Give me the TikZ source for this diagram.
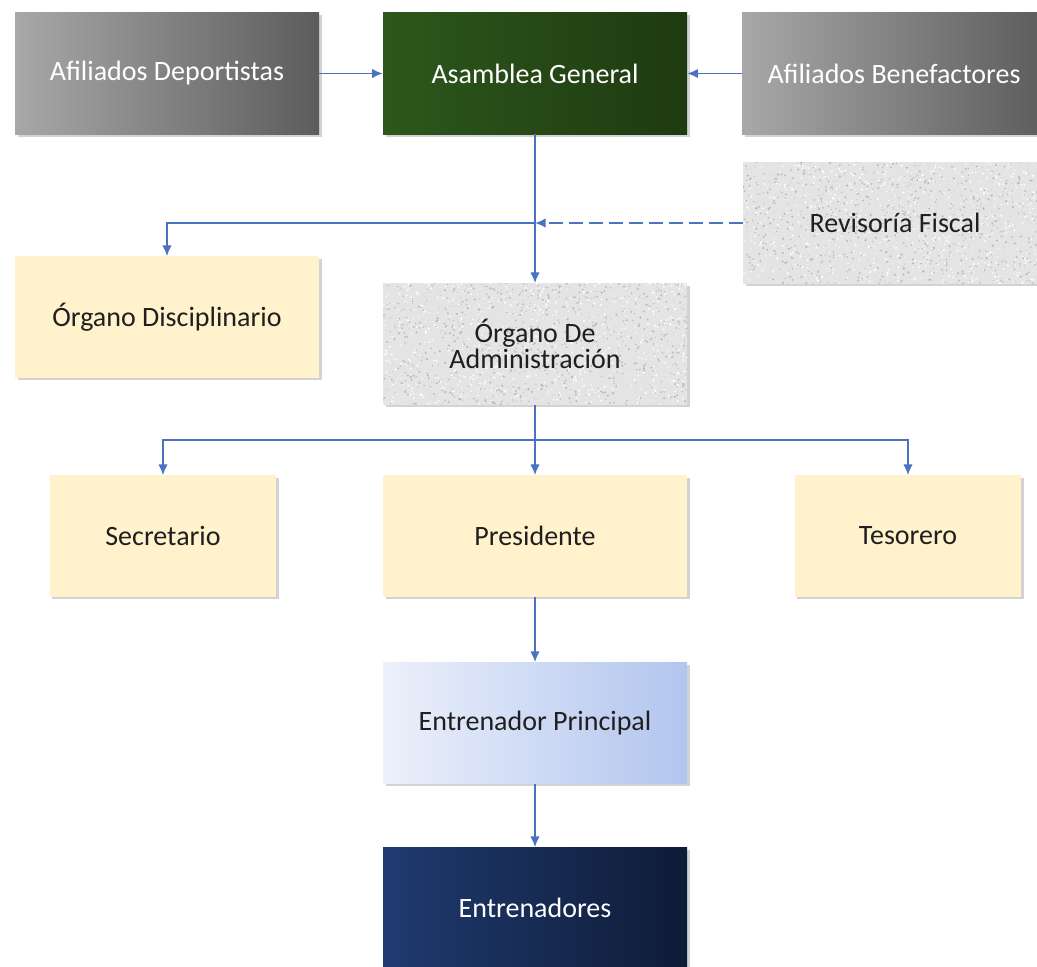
\documentclass[tikz,border=0pt]{standalone}
\usepackage{fontspec}
\setmainfont{Carlito}
\usepackage{tikz}
\usetikzlibrary{calc}
\usetikzlibrary{positioning, arrows.meta, shadows}

\definecolor{linkblue}{HTML}{4A72C0}
\definecolor{greyleft}{HTML}{A8A8A8}
\definecolor{greyright}{HTML}{5C5C5C}
\definecolor{greenleft}{HTML}{2E571C}
\definecolor{greenright}{HTML}{1E3B10}
\definecolor{cream}{HTML}{FFF2CC}
\definecolor{graniteback}{HTML}{E4E4E4}
\definecolor{paleleft}{HTML}{ECF0FB}
\definecolor{paleright}{HTML}{B2C5EE}
\definecolor{navyleft}{HTML}{203B70}
\definecolor{navyright}{HTML}{0E1B36}

\begin{document}
\begin{tikzpicture}[x=0.75pt,y=0.75pt,yscale=-1,xscale=1,
    box/.style={rectangle, minimum width=228pt, minimum height=91pt, inner sep=0.75pt, align=center,
      font=\fontsize{21}{20}\selectfont,
      drop shadow={shadow xshift=2pt, shadow yshift=-2pt, opacity=0.35}},
    smallbox/.style={box, minimum width=170pt},
    greybox/.style={box, left color=greyleft, right color=greyright, text=white},
    greenbox/.style={box, left color=greenleft, right color=greenright, text=white},
    creambox/.style={box, fill=cream, text=black!88},
    granite/.style={box, fill=graniteback, text=black!88,
      path picture={
        \foreach \k in {1,...,1000}{
          \fill[black!28] ($(path picture bounding box.south west)!{rnd}!(path picture bounding box.south east) + (0,{130*rnd})$) circle ({0.3+0.9*rnd});
          \fill[white] ($(path picture bounding box.south west)!{rnd}!(path picture bounding box.south east) + (0,{130*rnd})$) circle ({0.3+0.9*rnd});
        }}},
    palebox/.style={box, left color=paleleft, right color=paleright, text=black!88},
    navybox/.style={box, left color=navyleft, right color=navyright, text=white},
    link/.style={draw=linkblue, line width=1.1pt, -{Latex[length=8pt,width=7pt]}}]

  \useasboundingbox (0,0) rectangle (1037,966);
  \pgfmathsetseed{4}

  % Top row
  \node[greybox] (ad) at (167,73.5) {Afiliados Deportistas};
  \node[greenbox] (ag) at (535,73.5) {Asamblea General};
  \node[greybox] (ab) at (894,73.5) {Afiliados Benefactores};

  % Control and discipline
  \node[granite] (rf) at (895,223) {Revisoría Fiscal};
  \node[creambox] (od) at (167,317) {Órgano Disciplinario};
  \node[granite] (oa) at (535,344) {Órgano De\\Administración};

  % Board
  \node[smallbox, fill=cream, text=black!88] (sec) at (163,536) {Secretario};
  \node[creambox] (pres) at (535,536) {Presidente};
  \node[smallbox, fill=cream, text=black!88] (tes) at (908,536) {Tesorero};

  % Coaches
  \node[palebox] (ep) at (535,723) {Entrenador Principal};
  \node[navybox] (ent) at (535,908) {Entrenadores};

  % Connectors
  \coordinate (j1) at (535,223);
  \coordinate (j2) at (535,440);
  \draw[link] (ad) -- (ag);
  \draw[link] (ab) -- (ag);
  \draw[link] (ag.south) -- (oa.north);
  \draw[link] (j1) -| (od.north);
  \draw[link, dash pattern=on 10pt off 5pt] (rf.west) -- (j1);
  \draw[link] (oa.south) -- (pres.north);
  \draw[link] (j2) -| (sec.north);
  \draw[link] (j2) -| (tes.north);
  \draw[link] (pres) -- (ep);
  \draw[link] (ep) -- (ent);

\end{tikzpicture}
\end{document}
